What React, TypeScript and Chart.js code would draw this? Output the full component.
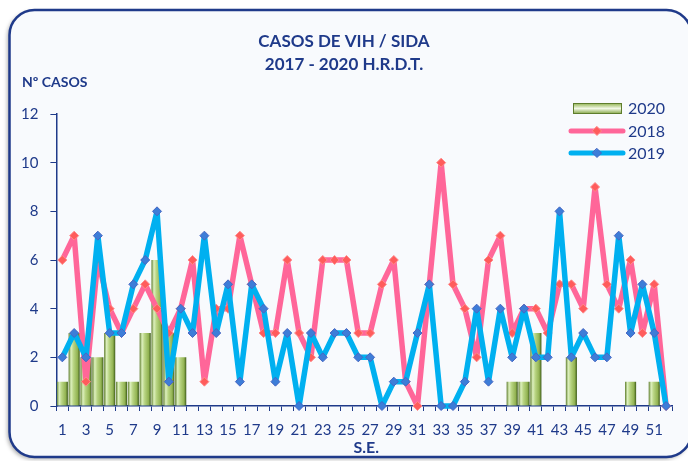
import { useEffect, useRef } from 'react';
import { Chart, registerables } from 'chart.js';

Chart.register(...registerables);

const weeks = ['1','2','3','4','5','6','7','8','9','10','11','12','13','14','15','16','17','18','19','20','21','22','23','24','25','26','27','28','29','30','31','32','33','34','35','36','37','38','39','40','41','42','43','44','45','46','47','48','49','50','51','52'];

const cases2020 = [1,3,2,2,3,1,1,3,6,3,2,0,0,0,0,0,0,0,0,0,0,0,0,0,0,0,0,0,0,0,0,0,0,0,0,0,0,0,1,1,3,0,0,2,0,0,0,0,1,0,1,0];
const cases2018 = [6,7,1,6,4,3,4,5,4,3,4,6,1,4,4,7,5,3,3,6,3,2,6,6,6,3,3,5,6,1,0,5,10,5,4,2,6,7,3,4,4,3,5,5,4,9,5,4,6,3,5,0];
const cases2019 = [2,3,2,7,3,3,5,6,8,1,4,3,7,3,5,1,5,4,1,3,0,3,2,3,3,2,2,0,1,1,3,5,0,0,1,4,1,4,2,4,2,2,8,2,3,2,2,7,3,5,3,0];

const titleLines = ['CASOS DE VIH / SIDA', '2017 - 2020 H.R.D.T.'];
const yTitle = 'Nº CASOS';
const xTitle = 'S.E.';
const seriesNames = ['2020', '2018', '2019'];

const NAVY = '#1F3A8A';
const PINK = '#FF6699';
const BLUE = '#00B0F0';
const FONT = 'Lato, "Open Sans", sans-serif';

function barGradient(ctx: CanvasRenderingContext2D, x0: number, x1: number) {
  const g = ctx.createLinearGradient(x0, 0, x1, 0);
  g.addColorStop(0, '#5E7D2C');
  g.addColorStop(0.22, '#DDF0BE');
  g.addColorStop(0.45, '#B8D482');
  g.addColorStop(0.8, '#92B352');
  g.addColorStop(1, '#3C5A18');
  return g;
}

const framePlugin = {
  id: 'frame',
  beforeDraw(chart: any) {
    const ctx = chart.ctx as CanvasRenderingContext2D;
    ctx.save();
    ctx.fillStyle = '#FFFFFF';
    ctx.fillRect(0, 0, chart.width, chart.height);
    ctx.beginPath();
    (ctx as any).roundRect(9.5, 10, 682, 447, 25);
    ctx.shadowColor = 'rgba(0,0,0,0.35)';
    ctx.shadowBlur = 4;
    ctx.shadowOffsetX = -2;
    ctx.shadowOffsetY = 2;
    ctx.fillStyle = '#F8FAFD';
    ctx.fill();
    ctx.shadowColor = 'transparent';
    ctx.lineWidth = 2.5;
    ctx.strokeStyle = NAVY;
    ctx.stroke();
    ctx.restore();
  },
  afterDraw(chart: any) {
    const ctx = chart.ctx as CanvasRenderingContext2D;
    ctx.save();
    ctx.fillStyle = NAVY;
    ctx.textBaseline = 'middle';
    ctx.textAlign = 'center';
    ctx.font = `bold 17px ${FONT}`;
    ctx.fillText(titleLines[0], 344, 42);
    ctx.fillText(titleLines[1], 344, 65);
    ctx.textAlign = 'left';
    ctx.font = `bold 14px ${FONT}`;
    ctx.fillText(yTitle, 22, 82);
    ctx.textAlign = 'center';
    ctx.font = `bold 16px ${FONT}`;
    const ca = chart.chartArea;
    ctx.fillText(xTitle, (ca.left + ca.right) / 2 + 2, 448);

    // legend
    ctx.font = `16px ${FONT}`;
    ctx.textAlign = 'left';
    const g = ctx.createLinearGradient(0, 103, 0, 114);
    g.addColorStop(0, '#8DB04A');
    g.addColorStop(0.5, '#F2F8E6');
    g.addColorStop(1, '#7FA23E');
    ctx.fillStyle = g;
    ctx.fillRect(573, 103, 49, 11);
    ctx.strokeStyle = '#5E7D2C';
    ctx.lineWidth = 1;
    ctx.strokeRect(573.5, 103.5, 48, 10);
    ctx.fillStyle = NAVY;
    ctx.fillText(seriesNames[0], 628, 108.5);
    const lineSw = (y: number, col: string, mfill: string, mstroke: string, name: string) => {
      ctx.beginPath();
      ctx.moveTo(571, y);
      ctx.lineTo(623, y);
      ctx.strokeStyle = col;
      ctx.lineWidth = 5;
      ctx.lineCap = 'round';
      ctx.stroke();
      ctx.beginPath();
      ctx.moveTo(597, y - 4.5);
      ctx.lineTo(601.5, y);
      ctx.lineTo(597, y + 4.5);
      ctx.lineTo(592.5, y);
      ctx.closePath();
      ctx.fillStyle = mfill;
      ctx.fill();
      ctx.strokeStyle = mstroke;
      ctx.lineWidth = 1;
      ctx.stroke();
      ctx.fillStyle = NAVY;
      ctx.fillText(name, 628, y + 0.5);
    };
    lineSw(131, PINK, '#FF5C5C', '#FF8A8A', seriesNames[1]);
    lineSw(153, BLUE, '#3D7DD8', '#4766C2', seriesNames[2]);
    ctx.restore();
  },
};

export default function App() {
  const ref = useRef<HTMLCanvasElement | null>(null);
  useEffect(() => {
    document.body.style.margin = '0';
    if (!ref.current) return;
    const chart = new Chart(ref.current, {
      type: 'bar',
      data: {
        labels: weeks,
        datasets: [
          {
            type: 'line',
            label: seriesNames[2],
            data: cases2019,
            borderColor: BLUE,
            borderWidth: 5.5,
            borderJoinStyle: 'round',
            borderCapStyle: 'round',
            tension: 0,
            pointStyle: 'rectRot',
            pointRadius: 4.5,
            pointBackgroundColor: '#3D7DD8',
            pointBorderColor: '#4766C2',
            pointBorderWidth: 1,
            clip: false as any,
            order: 1,
          } as any,
          {
            type: 'line',
            label: seriesNames[1],
            data: cases2018,
            borderColor: PINK,
            borderWidth: 5.5,
            borderJoinStyle: 'round',
            borderCapStyle: 'round',
            tension: 0,
            pointStyle: 'rectRot',
            pointRadius: 4.5,
            pointBackgroundColor: '#FF5C5C',
            pointBorderColor: '#FF8A8A',
            pointBorderWidth: 1,
            clip: false as any,
            order: 2,
          } as any,
          {
            type: 'bar',
            label: seriesNames[0],
            data: cases2020,
            backgroundColor: (c: any) => {
              const ch = c.chart;
              const xs = ch.scales && ch.scales.x;
              if (!ch.chartArea || !xs) return '#9BBB59';
              const px = xs.getPixelForValue(c.dataIndex);
              const w = (xs.width / weeks.length) * 0.94;
              return barGradient(ch.ctx, px - w / 2, px + w / 2);
            },
            borderWidth: 0,
            barPercentage: 0.94,
            categoryPercentage: 1,
            order: 3,
          } as any,
        ],
      },
      options: {
        animation: false,
        responsive: false,
        maintainAspectRatio: false,
        layout: { padding: { top: 114, right: 16, bottom: 0, left: 0 } },
        plugins: {
          legend: { display: false },
          title: { display: false },
          tooltip: { enabled: false },
        },
        scales: {
          x: {
            type: 'category',
            offset: true,
            grid: {
              display: true,
              drawOnChartArea: false,
              drawTicks: true,
              tickLength: 5,
              color: NAVY,
              offset: true,
              lineWidth: 1,
            },
            border: { display: true, color: NAVY, width: 1.5 },
            ticks: {
              autoSkip: false,
              maxRotation: 0,
              minRotation: 0,
              padding: 10,
              color: NAVY,
              font: { family: FONT, size: 15 },
              callback: (_v: any, i: number) => (i % 2 === 0 ? weeks[i] : ''),
            },
            afterFit: (s: any) => { s.height = 55; },
          } as any,
          y: {
            min: 0,
            max: 12,
            grid: {
              display: true,
              drawOnChartArea: false,
              drawTicks: true,
              tickLength: 6,
              color: NAVY,
              lineWidth: 1,
            },
            border: { display: true, color: NAVY, width: 1.5 },
            ticks: {
              stepSize: 2,
              padding: 12,
              color: NAVY,
              font: { family: FONT, size: 15 },
            },
            afterFit: (s: any) => { s.width = 56.4; },
          } as any,
        },
      },
      plugins: [framePlugin],
    });
    return () => chart.destroy();
  }, []);
  return <canvas ref={ref} width={688} height={461} style={{ display: 'block', width: 688, height: 461 }} />;
}
